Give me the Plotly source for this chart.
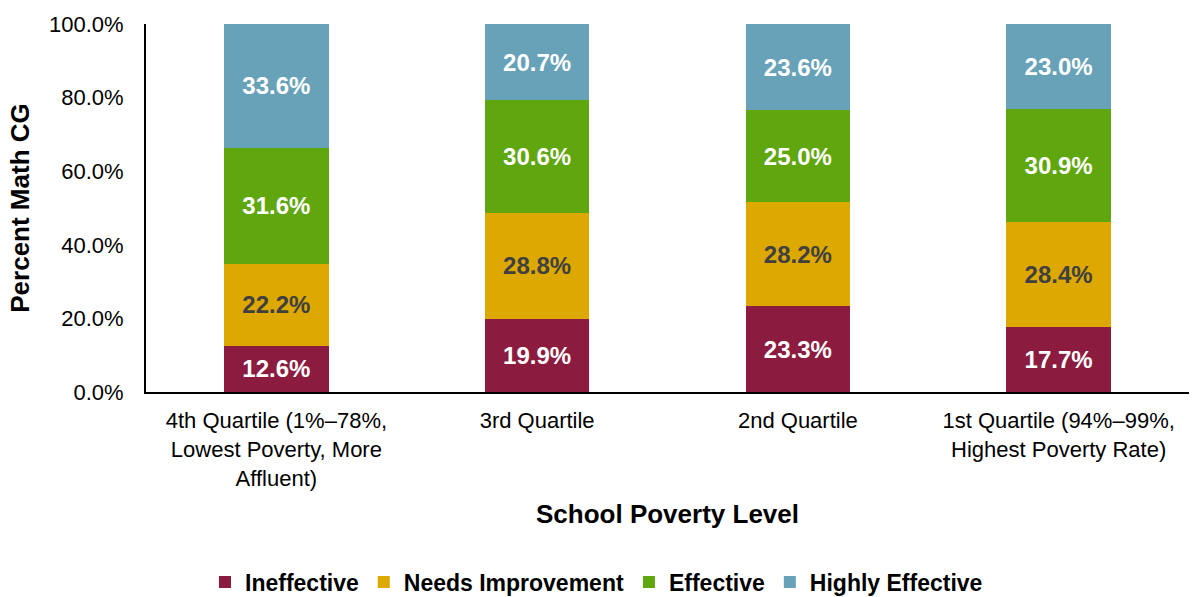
import plotly.graph_objects as go

categories = [
    "4th Quartile (1%–78%,<br>Lowest Poverty, More<br>Affluent)",
    "3rd Quartile",
    "2nd Quartile",
    "1st Quartile (94%–99%,<br>Highest Poverty Rate)",
]
ineffective = [12.6, 19.9, 23.3, 17.7]
needs_improvement = [22.2, 28.8, 28.2, 28.4]
effective = [31.6, 30.6, 25.0, 30.9]
highly_effective = [33.6, 20.7, 23.6, 23.0]

series = [
    ("Ineffective", ineffective, "#8B1C40", "white"),
    ("Needs Improvement", needs_improvement, "#DDA800", "#404040"),
    ("Effective", effective, "#5FA60F", "white"),
    ("Highly Effective", highly_effective, "#68A2B8", "white"),
]

FONT = "Liberation Sans, Arial, sans-serif"

fig = go.Figure()
for name, vals, color, tcolor in series:
    fig.add_trace(go.Bar(
        name=name, x=categories, y=vals,
        marker=dict(color=color, line=dict(width=0)),
        width=0.4,
        text=[f"{v:.1f}%" for v in vals],
        textposition="inside", insidetextanchor="middle",
        textangle=0,
        textfont=dict(family=FONT, size=24, color=tcolor, weight="bold"),
        hoverinfo="skip",
    ))

fig.update_layout(
    barmode="stack",
    width=1193, height=597,
    margin=dict(l=146, r=4, t=24, b=205),
    paper_bgcolor="white", plot_bgcolor="white",
    font=dict(family=FONT, color="black"),
    showlegend=True,
    legend=dict(
        orientation="h", xref="container", yref="container",
        x=0.5, xanchor="center", y=0.025, yanchor="middle",
        traceorder="normal",
        font=dict(family=FONT, size=23, color="black", weight="bold"),
        itemwidth=30, tracegroupgap=0,
    ),
)
fig.update_yaxes(
    range=[0, 100], dtick=20, tickformat=".1f", ticksuffix="%",
    showgrid=False, zeroline=False,
    showline=True, linecolor="black", linewidth=2,
    ticks="", ticklabelstandoff=16,
    tickfont=dict(family=FONT, size=22, color="black"),
    title=dict(text="Percent Math CG", standoff=12,
               font=dict(family=FONT, size=26, color="black", weight="bold")),
)
fig.update_xaxes(
    showgrid=False, showline=True, linecolor="black", linewidth=2,
    ticks="", ticklabelstandoff=8,
    tickfont=dict(family=FONT, size=22, color="black"),
    title=dict(text="School Poverty Level", standoff=15,
               font=dict(family=FONT, size=26, color="black", weight="bold")),
)

fig.write_html("out.html")
